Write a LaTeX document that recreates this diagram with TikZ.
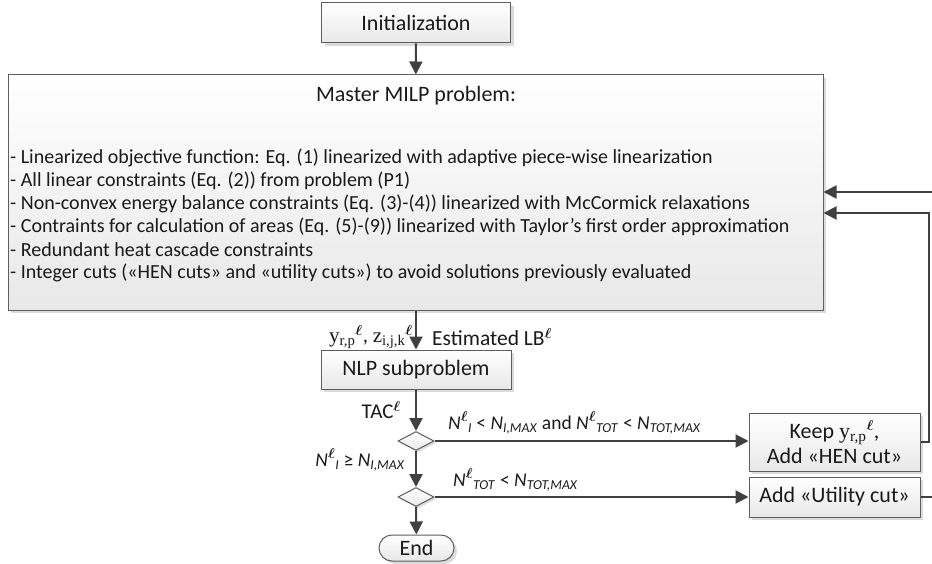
\documentclass[tikz,border=0pt]{standalone}
\usepackage{bm}
\usepackage{fontspec}
\setmainfont{Carlito}
\newfontfamily\serif{Liberation Serif}
\usetikzlibrary{arrows.meta,shapes.geometric,shadows,calc}
\definecolor{ln}{HTML}{404040}
\definecolor{bd}{HTML}{5E5E5E}
\definecolor{tx}{HTML}{1A1A1A}
\newcommand{\lsup}{\textsuperscript{$\bm{\ell}$}}
\newcommand{\NN}[1]{\textit{N}\lsup\textsubscript{\textit{#1}}}
\newcommand{\NM}[1]{\textit{N}\textsubscript{\textit{#1}}}
\newcommand{\yrp}{{\serif y}\textsubscript{\serif r,p}\lsup}
\newcommand{\zijk}{{\serif z}\textsubscript{\serif i,j,k}\lsup}
\tikzset{
  box/.style={draw=bd, line width=1pt, top color=white, bottom color=black!9,
    drop shadow={shadow xshift=3pt, shadow yshift=-3pt, fill=black!14, opacity=1},
    inner sep=0pt, align=center, text=tx, font=\fontsize{22}{26}\selectfont},
  dec/.style={diamond, draw=bd, line width=1pt, top color=white, bottom color=black!9,
    drop shadow={shadow xshift=2pt, shadow yshift=-2pt, fill=black!14, opacity=1},
    inner sep=0pt, minimum width=36pt, minimum height=19pt, aspect=1.9},
  flow/.style={draw=ln, line width=2pt, -{Triangle[length=13pt,width=13pt]}},
  lab/.style={inner sep=0pt, text=tx, font=\fontsize{19.5}{23}\selectfont},
  item/.style={anchor=west, inner sep=0pt, text=tx, font=\fontsize{20}{24}\selectfont},
}
\begin{document}
\begin{tikzpicture}[x=1pt,y=-1pt]
\useasboundingbox (0,0) rectangle (932,564);
% nodes
\node[box, minimum width=189pt, minimum height=40pt] (init) at (416,23) {Initialization};
\node[box, minimum width=815pt, minimum height=235pt] (master) at (415.5,192.5) {};
\node[lab, font=\fontsize{22}{26}\selectfont] (mtitle) at (416,96) {Master MILP problem:};
\node[item] (i1) at (10,158) {- Linearized objective function: Eq. (1) linearized with adaptive piece-wise linearization};
\node[item] (i2) at (10,181) {- All linear constraints (Eq. (2)) from problem (P1)};
\node[item] (i3) at (10,204) {- Non-convex energy balance constraints (Eq. (3)-(4)) linearized with McCormick relaxations};
\node[item] (i4) at (10,227) {- Contraints for calculation of areas (Eq. (5)-(9)) linearized with Taylor’s first order approximation};
\node[item] (i5) at (10,250) {- Redundant heat cascade constraints};
\node[item] (i6) at (10,273) {- Integer cuts («HEN cuts» and «utility cuts») to avoid solutions previously evaluated};
\node[box, minimum width=190pt, minimum height=39pt] (nlp) at (416,369.5) {NLP subproblem};
\node[dec] (d1) at (416,441) {};
\node[dec] (d2) at (416,497) {};
\node[box, rounded corners=13pt, minimum width=75pt, minimum height=26pt] (end) at (416.5,548) {End};
\node[box, minimum width=171pt, minimum height=58pt, font=\fontsize{22}{25}\selectfont] (keep) at (834.5,442) {Keep \yrp,\\Add «HEN cut»};
\node[box, minimum width=171pt, minimum height=40pt] (util) at (834.5,497) {Add «Utility cut»};
% labels
\node[lab, anchor=east, font=\fontsize{21}{24}\selectfont] (lyz) at (413,337) {\yrp, \zijk};
\node[lab, anchor=west, font=\fontsize{21.5}{24}\selectfont] (llb) at (432,337) {Estimated LB\lsup};
\node[lab, anchor=east, font=\fontsize{21}{24}\selectfont] (ltac) at (401,410) {TAC\lsup};
\node[lab, anchor=west] (lc1) at (448,423) {\NN{I} < \NM{I,MAX} and \NN{TOT} < \NM{TOT,MAX}};
\node[lab, anchor=east] (lc2) at (405,460) {\NN{I} ≥ \NM{I,MAX}};
\node[lab, anchor=west] (lc3) at (453,480) {\NN{TOT} < \NM{TOT,MAX}};
% connectors
\coordinate (rk) at (929,442);
\coordinate (ru) at (945,497);
\draw[flow] (init) -- (master);
\draw[flow] (master.south -| nlp.north) -- (nlp);
\draw[flow] (nlp) -- (d1);
\draw[flow] (d1) -- (d2);
\draw[flow] (d2) -- (end);
\draw[flow] (d1.east) -- (d1.east -| keep.west);
\draw[flow] (d2.east) -- (d2.east -| util.west);
\draw[flow] (keep.east |- rk) -- (rk) |- ($(master.east)+(0,20.5)$);
\draw[flow] (util.east |- ru) -- (ru) |- ($(master.east)+(0,-0.5)$);
\end{tikzpicture}
\end{document}
